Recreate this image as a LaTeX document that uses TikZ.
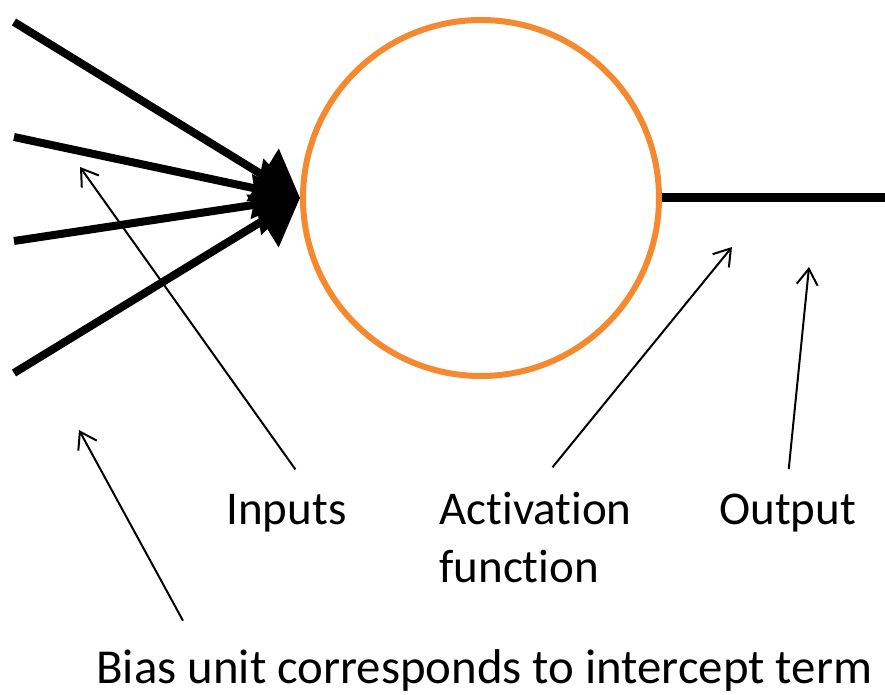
\documentclass[tikz,border=0pt]{standalone}
\usepackage{fontspec}
\setmainfont{Carlito}[Ligatures=CommonOff]
\usepackage{xcolor}
\usepackage{tikz}
\usetikzlibrary{arrows.meta, calc, positioning}
\definecolor{neuronorange}{RGB}{244, 137, 47}

\begin{document}
\begin{tikzpicture}[
  x=0.5pt, y=-0.5pt,
  font=\fontsize{23.5}{28.5}\selectfont,
  neuron/.style={circle, draw=neuronorange, line width=3pt, inner sep=0pt, minimum size=178pt},
  inputline/.style={line width=4pt, -{Triangle[length=22pt, width=30pt]}},
  outputline/.style={line width=4.5pt},
  pointer/.style={line width=1pt, -{Straight Barb[length=8pt, width=10.5pt]}},
  notetext/.style={inner sep=0pt, anchor=base west}
]
\useasboundingbox (0,0) rectangle (885,695);
\node[neuron] (neuron) at (481,198) {};
\foreach \y [count=\i] in {22,137,241,373}
  \coordinate (in\i) at (14,\y);
\foreach \i in {1,...,4}
  \draw[inputline] (in\i) -- (neuron.west);
\coordinate (out) at (885,198);
\draw[outputline] (neuron.east) -- (out);

\node[notetext] (inputs) at (226,525) {Inputs};
\node[notetext, align=left] (activation) at (439,582) {Activation\\function};
\node[notetext] (output) at (719,525) {Output};
\node[notetext, font=\fontsize{24.4}{29}\selectfont] (bias) at (96,683) {Bias unit corresponds to intercept term};

\coordinate (inTip) at (80,167);
\coordinate (actTip) at (732,247);
\coordinate (outTip) at (809,267);
\coordinate (biasTip) at (79,430);
\draw[pointer] ($(inputs.north)+(9,-25)$) -- (inTip);
\draw[pointer] ($(activation.north)+(17,-25)$) -- (actTip);
\draw[pointer] ($(output.north)+(1,-25)$) -- (outTip);
\draw[pointer] ($(bias.north west)+(87,-28)$) -- (biasTip);
\end{tikzpicture}
\end{document}
